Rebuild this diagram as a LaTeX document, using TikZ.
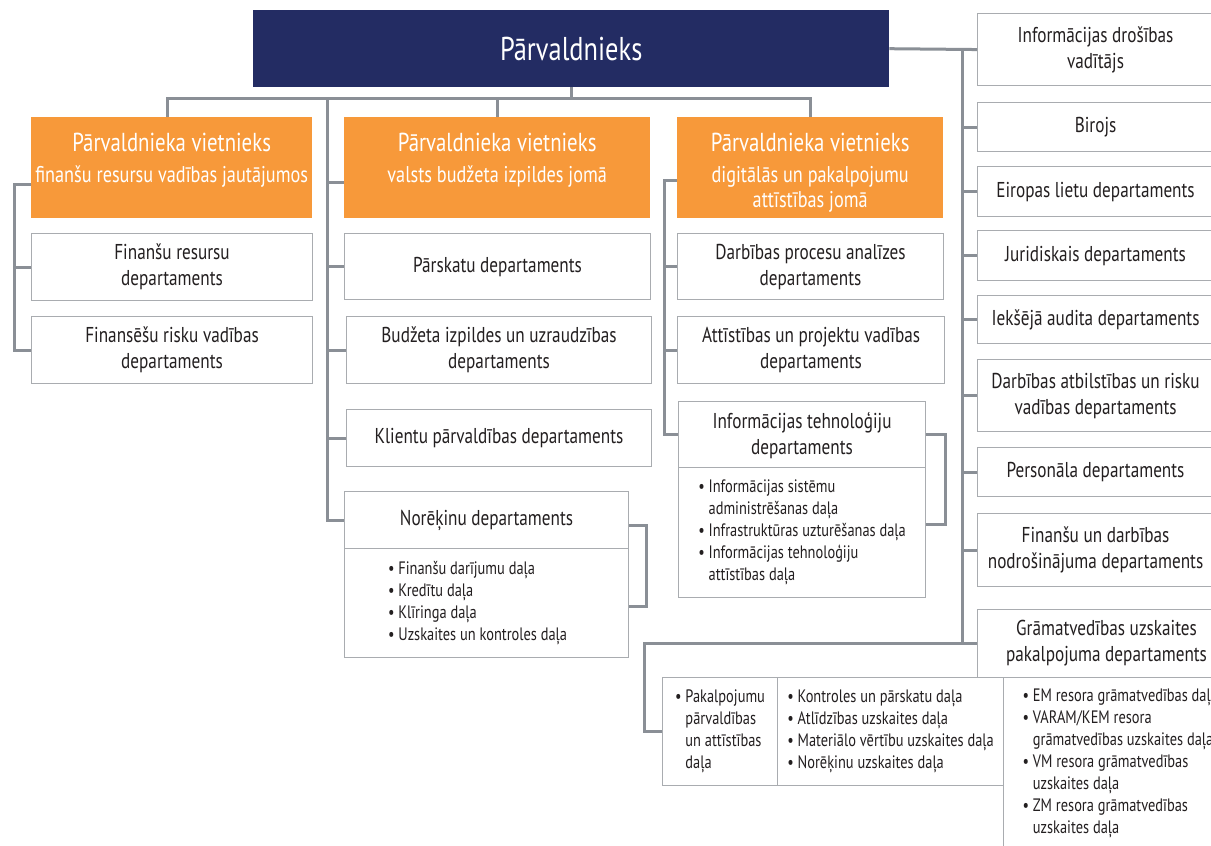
\documentclass[tikz,border=0pt]{standalone}
\usepackage{fontspec}
\setmainfont{PT Sans}[FakeStretch=0.8]
\definecolor{navy}{HTML}{232C63}
\definecolor{orangec}{HTML}{F7993A}
\definecolor{linegray}{HTML}{8A8F96}
\definecolor{boxgray}{HTML}{A9ACB0}
\definecolor{ink}{HTML}{231F20}
\tikzset{
 conn/.style={draw=linegray, line width=3pt, line join=miter},
 wbox/.style={draw=boxgray, line width=1.1pt, fill=white, text=ink, inner sep=0pt, align=center, font=\fontsize{21.5}{26}\selectfont, anchor=north west},
 obox/.style={fill=orangec, text=white, inner sep=0pt, align=center, font=\fontsize{22.8}{25}\selectfont, anchor=north west},
 lbox/.style={wbox, align=left, font=\fontsize{18}{22}\selectfont},
 sz/.style 2 args={minimum width=#1pt, minimum height=#2pt},
}
\newcommand{\bl}{\textbullet\ }
\newcommand{\ind}{\phantom{\textbullet\ }}
\newcommand{\vt}{{\fontsize{26}{30}\selectfont Pārvaldnieka vietnieks}\\[6pt]}
\begin{document}
\begin{tikzpicture}[x=1pt,y=-1pt]
\useasboundingbox (0,0) rectangle (1211,846);
\clip (0,0) rectangle (1211,846);
\fill[white] (0,0) rectangle (1211,846);
% top
\node[fill=navy, text=white, sz={636}{77}, anchor=north west, inner sep=0pt, font=\fontsize{33}{38}\selectfont] (boss) at (253,10) {Pārvaldnieks};
% deputies
\node[obox, sz={281}{101}, text depth=19pt] (v1) at (31,117) {\vt finanšu resursu vadības jautājumos};
\node[obox, sz={306}{101}, text depth=19pt] (v2) at (344,117) {\vt valsts budžeta izpildes jomā};
\node[obox, sz={266}{101}, text height=84pt, text depth=5pt] (v3) at (677,117) {\vt digitālās un pakalpojumu\\attīstības jomā};
% column 1
\node[wbox, sz={281}{67}] (a1) at (31,233) {Finanšu resursu\\departaments};
\node[wbox, sz={281}{67}] (a2) at (31,316) {Finansēšu risku vadības\\departaments};
% column 2
\node[wbox, sz={306}{66}] (b1) at (344,233) {Pārskatu departaments};
\node[wbox, sz={305}{67}] (b2) at (346,316) {Budžeta izpildes un uzraudzības\\departaments};
\node[wbox, sz={305}{57}] (b3) at (346,409) {Klientu pārvaldības departaments};
\node[wbox, sz={284}{57}] (b4) at (344,491) {Norēķinu departaments};
\node[lbox, sz={284}{109}] (b4l) at (344,548) {\bl Finanšu darījumu daļa\\\bl Kredītu daļa\\\bl Klīringa daļa\\\bl Uzskaites un kontroles daļa\hspace*{18pt}};
% column 3
\node[wbox, sz={266}{66}] (c1) at (677,233) {Darbības procesu analīzes\\departaments};
\node[wbox, sz={267}{67}] (c2) at (677,316) {Attīstības un projektu vadības\\departaments};
\node[wbox, sz={247}{66}, text depth=3pt] (c3) at (678,401) {Informācijas tehnoloģiju\\departaments};
\node[lbox, sz={247}{130}] (c3l) at (678,467) {\bl Informācijas sistēmu\\\ind administrēšanas daļa\\\bl Infrastruktūras uzturēšanas daļa\\\bl Informācijas tehnoloģiju\\\ind attīstības daļa};
% right column
\node[wbox, sz={236}{72}] (r1) at (977,13) {Informācijas drošības\\vadītājs};
\node[wbox, sz={236}{49}] (r2) at (977,102) {Birojs};
\node[wbox, sz={236}{50}] (r3) at (977,166) {Eiropas lietu departaments};
\node[wbox, sz={236}{50}] (r4) at (977,230) {Juridiskais departaments};
\node[wbox, sz={236}{48}] (r5) at (977,295) {Iekšējā audita departaments};
\node[wbox, sz={236}{72}] (r6) at (977,359) {Darbības atbilstības un risku\\vadības departaments};
\node[wbox, sz={236}{49}] (r7) at (977,447) {Personāla departaments};
\node[wbox, sz={236}{73}] (r8) at (977,513) {Finanšu un darbības\\nodrošinājuma departaments};
\node[wbox, sz={258}{68}] (r9) at (977,609) {Grāmatvedības uzskaites\\pakalpojuma departaments};
% accounting sub-units
\node[lbox, sz={115}{108}] (g1) at (662,677) {\bl Pakalpojumu\\\ind pārvaldības\\\ind un attīstības\\\ind daļa};
\node[lbox, sz={226}{108}] (g2) at (777,677) {\bl Kontroles un pārskatu daļa\\\bl Atlīdzības uzskaites daļa\\\bl Materiālo vērtību uzskaites daļa\\\bl Norēķinu uzskaites daļa};
\node[lbox, inner xsep=19pt, inner ysep=11pt, text depth=60pt] (g3) at (1003,677) {\bl EM resora grāmatvedības daļa\\\bl VARAM/KEM resora\\\ind grāmatvedības uzskaites daļa\\\bl VM resora grāmatvedības\\\ind uzskaites daļa\\\bl ZM resora grāmatvedības\\\ind uzskaites daļa};
% helper coordinates
\coordinate (busY) at (0,98);
\coordinate (sp1x) at (14,0);
\coordinate (sp2) at (327,98);
\coordinate (sp3x) at (664,0);
\coordinate (sp4x) at (962,0);
\coordinate (gx) at (644,0);
% connectors from top
\draw[conn] (boss.south) -- (boss.south |- busY);
\draw[conn] ([xshift=-4.5pt]v1.north) -- ([xshift=-4.5pt]v1.north |- busY) -- (v3.north |- busY) -- (v3.north);
\draw[conn] (v2.north) -- (v2.north |- busY);
% column 1
\draw[conn] ([yshift=-17pt]v1.west) -| (a2.west -| sp1x) -- (a2.west);
\draw[conn] (a1.west -| sp1x) -- (a1.west);
% column 2
\draw[conn] (sp2) |- (b4.west);
\draw[conn] ([yshift=-15pt]v2.west -| sp2) -- ([yshift=-15pt]v2.west);
\draw[conn] (b1.west -| sp2) -- (b1.west);
\draw[conn] (b2.west -| sp2) -- (b2.west);
\draw[conn] (b3.west -| sp2) -- (b3.west);
\draw[conn] ([yshift=-5pt]b4.east) -- ++(17,0) |- ([yshift=-3pt]b4l.east);
% column 3
\draw[conn] ([yshift=-13pt]v3.west) -| (c3.west -| sp3x) -- (c3.west);
\draw[conn] (c1.west -| sp3x) -- (c1.west);
\draw[conn] (c2.west -| sp3x) -- (c2.west);
\draw[conn] (c3.east) -- ++(19,0) |- ([yshift=8pt]c3l.east);
% right column
\draw[conn] (boss.east) -- (r1.west);
\draw[conn] (boss.east -| sp4x) -- (r9.west -| sp4x);
\foreach \r in {r2,r3,r4,r5,r6,r7,r8}{\draw[conn] (\r.west -| sp4x) -- (\r.west);}
\draw[conn] (r9.west) -- (r9.west -| gx) |- (g1.west);
\end{tikzpicture}
\end{document}
